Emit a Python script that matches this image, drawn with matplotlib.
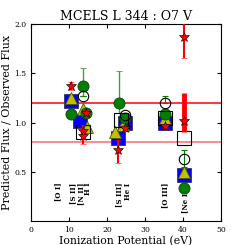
#!/usr/bin/env python3
"""Predicted / observed flux vs ionization potential"""

import numpy as np
import matplotlib; matplotlib.use('Agg')
import matplotlib.pyplot as plt

plt.rcParams['font.family'] = 'DejaVu Serif'

# ionization potentials (eV) of each point, per model
sq_x = [10.4, 12.9, 22.8, 24.7, 35.3, 40.3]
sq_y = [1.22, 1.02, 0.84, 1.00, 1.00, 0.47]

tri_x = [10.4, 13.6, 14.6, 22.0, 24.2, 35.3, 40.3]
tri_y = [1.25, 1.14, 0.96, 0.90, 0.98, 1.05, 0.50]

circ_x = [13.6, 10.4, 14.5, 23.1, 24.6, 35.3, 40.3]
circ_y = [1.37, 1.09, 1.10, 1.20, 1.05, 1.09, 0.34]
circ_lo = [0.10, 0.0, 0.0, 0.10, 0.0, 0.0, 0.0]
circ_hi = [0.18, 0.0, 0.0, 0.32, 0.0, 0.0, 0.0]

ocirc_x = [13.6, 24.6, 35.3, 40.3]
ocirc_y = [1.27, 1.08, 1.20, 0.63]
ocirc_lo = [0.0, 0.0, 0.0, 0.08]
ocirc_hi = [0.0, 0.0, 0.07, 0.09]

osq_x = [13.6, 23.7, 35.3, 40.3]
osq_y = [0.90, 1.03, 1.05, 0.84]

star_x = [10.4, 14.5, 13.6, 13.6, 23.0, 24.6, 35.3, 40.3]
star_y = [1.37, 1.10, 0.92, 0.86, 0.72, 0.95, 0.97, 1.87]
star_lo = [0.04, 0.03, 0.06, 0.08, 0.13, 0.03, 0.02, 0.21]
star_hi = [0.04, 0.03, 0.06, 0.04, 0.10, 0.03, 0.02, 0.23]

# the broad [Ne III] point
ne_x = [40.3]
ne_y = [1.02]
ne_lo = [0.12]
ne_hi = [0.28]

lab_x = [7.2, 11.1, 13.1, 15.0, 23.2, 25.5, 35.3, 40.6]
lab_t = ['[O I]', '[S II]', '[N II]', 'H I', '[S III]', 'He I', '[O III]', '[Ne III]']

##########################################################
fig = plt.figure(figsize=(2.45, 2.45), dpi=100)
ax = fig.add_axes([0.127, 0.097, 0.775, 0.805])

ax.axhline(1.2, color='red', lw=1.3, alpha=0.85, zorder=1)
ax.axhline(0.8, color='red', lw=1.3, alpha=0.5, zorder=1)

ax.plot(sq_x, sq_y, 's', color='blue', mec='#333366', ms=10.5, mew=0.6, zorder=2)
ax.plot(tri_x, tri_y, '^', color='#c0c000', mec='#555500', ms=9, mew=0.6, zorder=3)
ax.errorbar(circ_x, circ_y, yerr=[circ_lo, circ_hi], fmt='o', color='green',
            ecolor='#4a9a4a', mec='#114411', ms=8, mew=0.6, capsize=2.5, elinewidth=1, zorder=4)
ax.errorbar(ocirc_x, ocirc_y, yerr=[ocirc_lo, ocirc_hi], fmt='o', mfc='none', mec='black',
            ecolor='green', ms=7.5, mew=0.8, capsize=2, elinewidth=0.8, zorder=5)
ax.plot(osq_x, osq_y, 's', mfc='none', mec='black', ms=10.5, mew=0.8, zorder=5)
ax.errorbar(ne_x, ne_y, yerr=[ne_lo, ne_hi], fmt='*', color='red', mec='black',
            ecolor='red', ms=7, mew=0.4, capsize=0, elinewidth=3.5, zorder=6)
ax.errorbar(star_x, star_y, yerr=[star_lo, star_hi], fmt='*', color='red', mec='black',
            ecolor='red', ms=7, mew=0.4, capsize=2.5, elinewidth=1.5, zorder=6)

for x, t in zip(lab_x, lab_t):
    ax.text(x, 0.39, t, rotation=90, ha='center', va='top', fontsize=5, fontweight='bold')

ax.set_xlim(0, 50)
ax.set_ylim(0, 2)
ax.set_yticks([0.5, 1.0, 1.5, 2.0])
ax.tick_params(direction='in', top=True, right=True, labelsize=5.5, length=3)
ax.set_xlabel('Ionization Potential (eV)', fontsize=7.8, labelpad=1)
ax.set_ylabel('Predicted Flux / Observed Flux', fontsize=8, labelpad=2)
ax.set_title('MCELS L 344 : O7 V', fontsize=9, pad=3)

fig.savefig('out.png', dpi=100)
